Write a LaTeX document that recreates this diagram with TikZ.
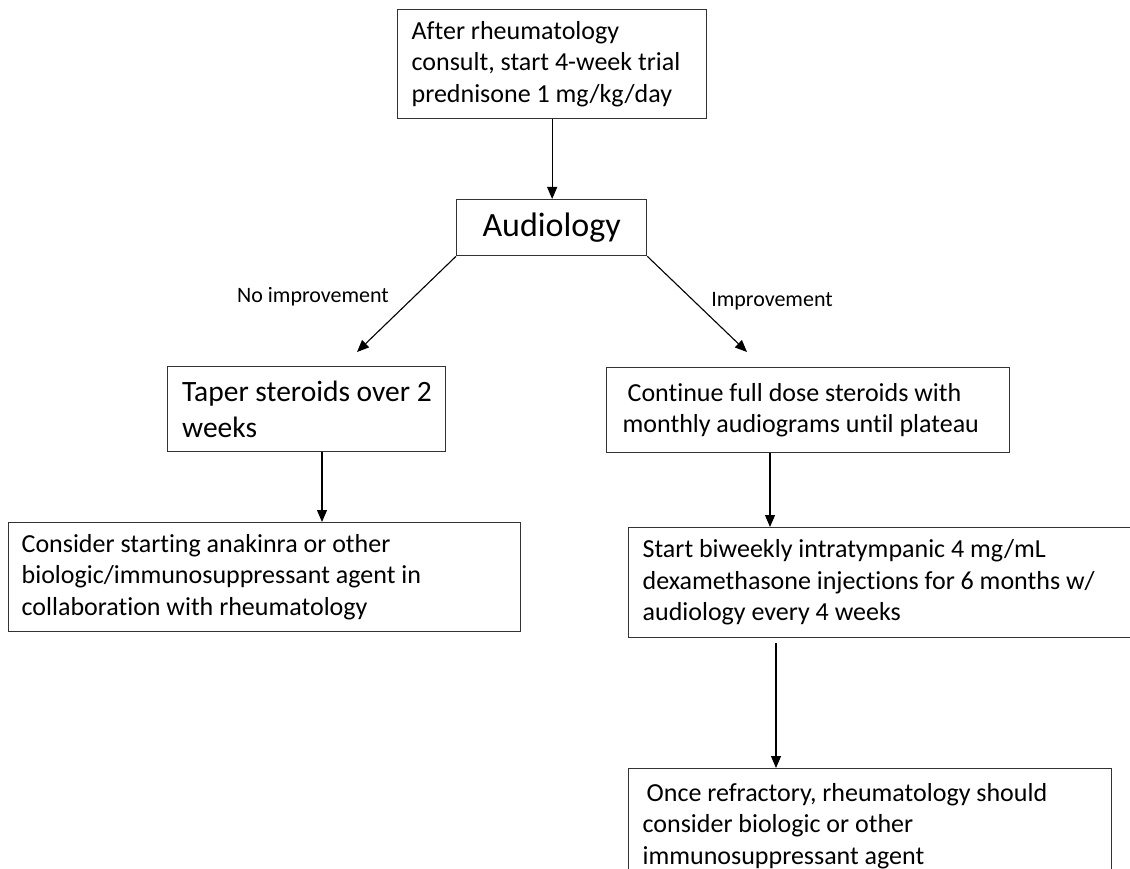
\documentclass[tikz,border=0pt]{standalone}
\usepackage{fontspec}
\setmainfont{Carlito}[Ligatures=NoCommon]
\usetikzlibrary{arrows.meta}
\begin{document}
\begin{tikzpicture}[x=1pt,y=-1pt,
  box/.style={draw=black!80, line width=1.3pt, rectangle, anchor=north west, align=flush left,
              inner xsep=14pt, inner ysep=0pt, font=\fontsize{26}{31.5}\selectfont},
  arr/.style={draw=black, line width=1.1pt, -{Triangle[length=12pt,width=10pt]}},
  lbl/.style={font=\fontsize{22}{26}\selectfont, inner sep=0pt}]
\useasboundingbox (0,0) rectangle (1130,869);
\clip (0,0) rectangle (1130,869);

\node[box, minimum width=309pt, minimum height=109pt, text width=281pt] (b1) at (397,9)
  {After rheumatology\\consult, start 4-week trial\\prednisone 1 mg/kg/day};

\node[box, minimum width=190pt, minimum height=56pt, text width=162pt, align=center,
      font=\fontsize{34}{40}\selectfont] (aud) at (456,199) {Audiology};

\node[box, minimum width=278pt, minimum height=85pt, inner xsep=10pt, text width=258pt,
      font=\fontsize{29.5}{36}\selectfont] (b3) at (167,366)
  {\hspace*{4.5pt}Taper steroids over 2\\\hspace*{4.5pt}weeks};

\node[box, minimum width=403pt, minimum height=85pt, inner xsep=16pt, text width=371pt] (b2) at (606,367)
  {\hspace*{5pt}Continue full dose steroids with\\monthly audiograms until plateau};

\node[box, minimum width=512pt, minimum height=109pt, inner xsep=13pt, text width=486pt] (b4) at (8,522)
  {Consider starting anakinra or other\\biologic/immunosuppressant agent in\\collaboration with rheumatology};

\node[box, minimum width=530pt, minimum height=110pt, text width=502pt] (b5) at (628,527)
  {Start biweekly intratympanic 4 mg/mL\\dexamethasone injections for 6 months w/\\audiology every 4 weeks};

\node[box, minimum width=483pt, minimum height=115pt, text width=455pt] (b6) at (628,768)
  {\hspace*{4pt}Once refractory, rheumatology should\\consider biologic or other\\immunosuppressant agent};

\node[lbl] (lno) at (313,297) {No improvement};
\node[lbl] (limp) at (772,301) {Improvement};

\coordinate (tl) at (357,352);
\coordinate (tr) at (747,352);
\coordinate (xl) at (322,0);
\coordinate (xr) at (770,0);
\coordinate (xr2) at (776,0);
\coordinate (s5) at ([yshift=-5pt]b5.south);

\draw[arr] (b1.south) -- (b1.south |- aud.north);
\draw[arr] (aud.south west) -- (tl);
\draw[arr] (aud.south east) -- (tr);
\draw[arr] (b3.south -| xl) -- (b4.north -| xl);
\draw[arr] (b2.south -| xr) -- (b5.north -| xr);
\draw[arr] (s5 -| xr2) -- (b6.north -| xr2);
\end{tikzpicture}
\end{document}
